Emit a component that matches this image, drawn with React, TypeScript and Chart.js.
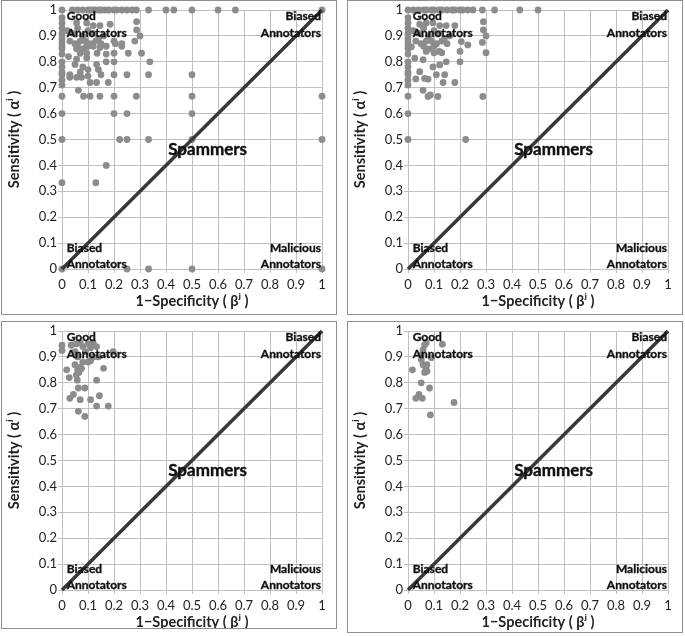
import React, { useEffect, useRef } from "react";
import { Chart, registerables } from "chart.js";

Chart.register(...registerables);

// ---------- data ----------
const tickValues = [0, 0.1, 0.2, 0.3, 0.4, 0.5, 0.6, 0.7, 0.8, 0.9, 1];
const diagonalX = [0, 1];
const diagonalY = [0, 1];

// Panel 1 (top-left): all annotators
const panel1X = [
  // top row (sensitivity = 1)
  0, 0.04, 0.06, 0.08, 0.1, 0.11, 0.125, 0.14, 0.15, 0.165, 0.18, 0.2, 0.21, 0.23, 0.25, 0.27, 0.286, 0.333, 0.4, 0.43, 0.5, 0.6, 0.667, 1,
  // x = 0 column
  0, 0, 0, 0, 0, 0, 0, 0, 0, 0, 0, 0, 0, 0, 0, 0, 0, 0, 0, 0,
  // cluster
  0.056, 0.095, 0.12, 0.146, 0.185, 0.287, 0.287, 0.3, 0.28,
  0.02, 0.04, 0.06, 0.08, 0.1, 0.12, 0.14, 0.16, 0.03, 0.05, 0.07, 0.09, 0.11, 0.13, 0.15, 0.17, 0.2, 0.23, 0.06, 0.08, 0.1,
  0.056, 0.095, 0.12, 0.146, 0.205, 0.23,
  0.07, 0.095, 0.135, 0.17, 0.2, 0.255, 0.306,
  0.025, 0.056, 0.095, 0.133, 0.17, 0.2, 0.338,
  0.05, 0.08, 0.1, 0.14,
  0.03, 0.07, 0.1, 0.15, 0.2, 0.25, 0.333, 0.5,
  0.03, 0.056, 0.075, 0.108, 0.133, 0.178,
  0.063, 0.083, 0.108, 0.146, 0.2, 0.286, 0.5, 1,
  0.2, 0.25, 0.5,
  0.222, 0.25, 0.333, 0.5, 1,
  0.17, 0.13,
  0.25, 0.333, 0.5, 1,
];
const panel1Y = [
  1, 1, 1, 1, 1, 1, 1, 1, 1, 1, 1, 1, 1, 1, 1, 1, 1, 1, 1, 1, 1, 1, 1, 1,
  0.97, 0.95, 0.93, 0.91, 0.89, 0.875, 0.86, 0.85, 0.83, 0.8, 0.78, 0.76, 0.75, 0.73, 0.71, 0.667, 0.6, 0.5, 0.333, 0,
  0.95, 0.95, 0.94, 0.94, 0.945, 0.955, 0.923, 0.9, 0.88,
  0.92, 0.91, 0.93, 0.9, 0.92, 0.91, 0.89, 0.9, 0.88, 0.87, 0.88, 0.88, 0.87, 0.88, 0.87, 0.86, 0.88, 0.87, 0.86, 0.85, 0.86,
  0.85, 0.86, 0.86, 0.855, 0.87, 0.86,
  0.833, 0.833, 0.833, 0.83, 0.833, 0.833, 0.833,
  0.82, 0.81, 0.815, 0.79, 0.8, 0.8, 0.8,
  0.79, 0.78, 0.77, 0.77,
  0.75, 0.76, 0.745, 0.75, 0.75, 0.75, 0.75, 0.75,
  0.74, 0.74, 0.74, 0.72, 0.72, 0.72,
  0.69, 0.667, 0.667, 0.667, 0.667, 0.667, 0.667, 0.667,
  0.6, 0.6, 0.6,
  0.5, 0.5, 0.5, 0.5, 0.5,
  0.4, 0.333,
  0, 0, 0, 0,
];

// Panel 2 (top-right)
const panel2X = [
  0, 0.02, 0.04, 0.06, 0.07, 0.09, 0.1, 0.12, 0.13, 0.15, 0.17, 0.18, 0.2, 0.21, 0.23, 0.25, 0.286, 0.333, 0.43, 0.5,
  0, 0, 0, 0, 0, 0, 0, 0, 0, 0, 0, 0, 0, 0, 0, 0, 0, 0,
  0.29, 0.29, 0.3, 0.286, 0.3, 0.205, 0.23, 0.2, 0.2, 0.18,
  0.045, 0.07, 0.096, 0.122, 0.147,
  0.02, 0.04, 0.06, 0.08, 0.1, 0.12, 0.14, 0.16, 0.03, 0.05, 0.07, 0.09, 0.11, 0.13, 0.15, 0.06, 0.08, 0.1, 0.12,
  0.026, 0.013, 0.058, 0.07, 0.096, 0.122, 0.147, 0.1, 0.13,
  0.045, 0.064, 0.077, 0.03, 0.058, 0.077, 0.086, 0.115, 0.135, 0.109, 0.141, 0.18, 0.288, 0.222,
];
const panel2Y = [
  1, 1, 1, 1, 1, 1, 1, 1, 1, 1, 1, 1, 1, 1, 1, 1, 1, 1, 1, 1,
  0.97, 0.95, 0.93, 0.91, 0.89, 0.875, 0.86, 0.85, 0.83, 0.8, 0.78, 0.76, 0.75, 0.73, 0.71, 0.667, 0.6, 0.5,
  0.955, 0.923, 0.9, 0.875, 0.835, 0.878, 0.865, 0.84, 0.8, 0.94,
  0.945, 0.95, 0.95, 0.94, 0.94,
  0.92, 0.91, 0.93, 0.9, 0.92, 0.91, 0.89, 0.9, 0.88, 0.87, 0.88, 0.88, 0.87, 0.88, 0.87, 0.86, 0.85, 0.86, 0.84,
  0.814, 0.858, 0.808, 0.84, 0.78, 0.788, 0.8, 0.835, 0.835,
  0.762, 0.736, 0.733, 0.734, 0.69, 0.666, 0.672, 0.666, 0.72, 0.75, 0.75, 0.72, 0.666, 0.5,
];

// Panel 3 (bottom-left)
const panel3X = [
  0, 0, 0.018, 0.028, 0.03, 0.044, 0.059, 0.063, 0.07, 0.063, 0.088, 0.088, 0.11, 0.133, 0.144, 0.133, 0.16, 0.178, 0.197, 0.14, 0.133,
  0.12, 0.1, 0.08, 0.07, 0.055, 0.035, 0.05, 0.06, 0.08, 0.1, 0.11, 0.12, 0.05, 0.06, 0.065, 0.07, 0.075, 0.055, 0.09, 0.11,
];
const panel3Y = [
  0.945, 0.925, 0.85, 0.82, 0.74, 0.755, 0.81, 0.78, 0.735, 0.69, 0.67, 0.78, 0.735, 0.71, 0.75, 0.81, 0.856, 0.71, 0.92, 0.9, 0.94,
  0.955, 0.95, 0.94, 0.955, 0.95, 0.945, 0.92, 0.9, 0.88, 0.88, 0.885, 0.9, 0.87, 0.85, 0.84, 0.86, 0.855, 0.83, 0.92, 0.935,
];

// Panel 4 (bottom-right)
const panel4X = [
  0.017, 0.03, 0.042, 0.051, 0.055, 0.083, 0.086, 0.177, 0.132, 0.064, 0.07, 0.058, 0.051, 0.051, 0.058, 0.068, 0.073, 0.064, 0.09, 0.073,
];
const panel4Y = [
  0.85, 0.74, 0.755, 0.8, 0.74, 0.78, 0.676, 0.724, 0.949, 0.946, 0.955, 0.927, 0.907, 0.89, 0.87, 0.857, 0.845, 0.84, 0.897, 0.87,
];

const cornerLabels = [
  { lines: ["Good", "Annotators"], x: 0.018, y: 0.975, align: "left" },
  { lines: ["Biased", "Annotators"], x: 0.996, y: 0.975, align: "right" },
  { lines: ["Biased", "Annotators"], x: 0.018, y: 0.082, align: "left" },
  { lines: ["Malicious", "Annotators"], x: 0.996, y: 0.082, align: "right" },
];
const centerLabel = { text: "Spammers", x: 0.56, y: 0.46 };

const xTitle = "1\u2212Specificity ( \u03B2\u02B2 )";
const yTitle = "Sensitivity ( \u03B1\u02B2 )";

// ---------- layout ----------
const FONT = "Lato, 'Noto Sans', sans-serif";
const panels = [
  { left: 1, top: 0, w: 336, h: 315, xs: panel1X, ys: panel1Y },
  { left: 347, top: 0, w: 336, h: 315, xs: panel2X, ys: panel2Y },
  { left: 1, top: 321, w: 336, h: 308, xs: panel3X, ys: panel3Y },
  { left: 347, top: 321, w: 336, h: 312, xs: panel4X, ys: panel4Y },
];
const PLOT_LEFT = 61;
const PLOT_TOP = 10;
const PLOT_BOTTOM = 269;
const PLOT_RIGHT = 321;

const annotationPlugin = {
  id: "annotations",
  afterDatasetsDraw(chart: any) {
    const { ctx } = chart;
    const xs = chart.scales.x;
    const ys = chart.scales.y;
    ctx.save();
    ctx.fillStyle = "#111";
    ctx.strokeStyle = "#111";
    ctx.lineWidth = 0.35;
    ctx.textBaseline = "middle";
    ctx.font = `bold 12px ${FONT}`;
    cornerLabels.forEach((l) => {
      const px = xs.getPixelForValue(l.x);
      const py = ys.getPixelForValue(l.y);
      ctx.textAlign = l.align;
      l.lines.forEach((t, i) => {
        ctx.fillText(t, px, py + i * 16.5);
        ctx.strokeText(t, px, py + i * 16.5);
      });
    });
    ctx.font = `bold 17px ${FONT}`;
    ctx.textAlign = "center";
    const cx = xs.getPixelForValue(centerLabel.x);
    const cy = ys.getPixelForValue(centerLabel.y);
    ctx.fillText(centerLabel.text, cx, cy);
    ctx.lineWidth = 0.4;
    ctx.strokeText(centerLabel.text, cx, cy);
    ctx.restore();
  },
  afterDraw(chart: any) {
    const { ctx, width, height } = chart;
    ctx.save();
    ctx.strokeStyle = "#8f8f8f";
    ctx.lineWidth = 1;
    ctx.strokeRect(0.5, 0.5, width - 1, height - 1);
    ctx.restore();
  },
};

function Panel({ p }: { p: any }) {
  const ref = useRef<HTMLCanvasElement>(null);
  useEffect(() => {
    const grid = "#c0c0c0";
    const tickFont = { family: FONT, size: 13 };
    const titleFont = { family: FONT, size: 14.5, weight: "bold" as const, lineHeight: 1 };
    const fmt = (v: any) => String(Number(Number(v).toFixed(1)));
    const xTitleOffset = p.h - (PLOT_BOTTOM + 33);
    const chart = new Chart(ref.current!, {
      type: "scatter",
      data: {
        datasets: [
          {
            type: "line",
            data: diagonalX.map((x, i) => ({ x, y: diagonalY[i] })),
            borderColor: "#383838",
            borderWidth: 3.5,
            pointRadius: 0,
            fill: false,
            clip: false,
          } as any,
          {
            data: p.xs.map((x: number, i: number) => ({ x, y: p.ys[i] })),
            backgroundColor: "#8c8c8c",
            borderColor: "#8c8c8c",
            borderWidth: 0,
            pointRadius: 3.4,
            clip: false,
          } as any,
        ],
      },
      options: {
        animation: false,
        responsive: false,
        maintainAspectRatio: false,
        layout: { padding: { left: 0, right: p.w - PLOT_RIGHT, top: PLOT_TOP, bottom: 0 } },
        plugins: { legend: { display: false }, tooltip: { enabled: false } },
        scales: {
          x: {
            type: "linear",
            min: 0,
            max: 1,
            afterBuildTicks: (s: any) => {
              s.ticks = tickValues.map((v) => ({ value: v }));
            },
            afterFit: (s: any) => {
              s.height = p.h - PLOT_BOTTOM;
            },
            ticks: { font: tickFont, color: "#222", padding: 4, maxRotation: 0, autoSkip: false, callback: fmt },
            grid: { color: grid, tickLength: 4, tickColor: grid },
            border: { color: grid },
            title: {
              display: true,
              text: xTitle,
              font: titleFont,
              color: "#222",
              padding: { top: 0, bottom: xTitleOffset - 7 },
            },
          },
          y: {
            type: "linear",
            min: 0,
            max: 1,
            afterBuildTicks: (s: any) => {
              s.ticks = tickValues.map((v) => ({ value: v }));
            },
            afterFit: (s: any) => {
              s.width = PLOT_LEFT;
            },
            ticks: { font: tickFont, color: "#222", padding: 1, autoSkip: false, callback: fmt },
            grid: { color: grid, tickLength: 4, tickColor: grid },
            border: { color: grid },
            title: {
              display: true,
              text: yTitle,
              font: titleFont,
              color: "#222",
              padding: { top: 6, bottom: 0 },
            },
          },
        },
      } as any,
      plugins: [annotationPlugin],
    });
    return () => chart.destroy();
  }, [p]);
  return (
    <canvas
      ref={ref}
      width={p.w}
      height={p.h}
      style={{ position: "absolute", left: p.left, top: p.top, width: p.w, height: p.h, background: "#fff" }}
    />
  );
}

export default function App() {
  return (
    <div style={{ position: "absolute", left: 0, top: 0, width: 685, height: 636, background: "#fff" }}>
      {panels.map((p, i) => (
        <Panel key={i} p={p} />
      ))}
    </div>
  );
}
